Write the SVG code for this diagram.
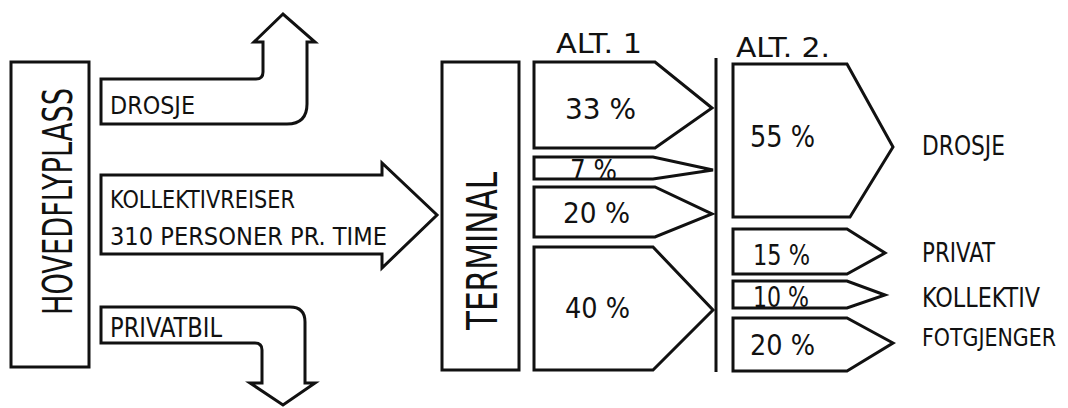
<svg xmlns="http://www.w3.org/2000/svg" width="1068" height="408" viewBox="0 0 1068 408">
<style>
.s{fill:#fff;stroke:#111;stroke-width:3;stroke-linejoin:miter}
.t{font-family:"DejaVu Sans Condensed","DejaVu Sans",sans-serif;fill:#111}
</style>
<rect width="1068" height="408" fill="#fff"/>
<g id="connectors">
<path id="arrow-drosje" class="s" d="M101,79 L256,79 Q263,79 263,72 L263,42 L254,42 L283,14 L315,42 L307,42 L307,104 Q307,124 287,124 L101,124 Z"/>
<path id="arrow-privatbil" class="s" d="M101,307 L290,307 Q305,307 305,322 L305,383 L315,383 L283,405 L250,383 L262,383 L262,350 Q262,343 255,343 L101,343 Z"/>
<path id="arrow-kollektiv" class="s" d="M101,175 L382,175 L382,163 L437,215 L382,268 L382,254 L101,254 Z"/>
<line x1="716" y1="58" x2="716" y2="372" stroke="#111" stroke-width="3"/>
</g>
<g id="labels-left">
<text class="t" x="110" y="114" font-size="24" textLength="85" lengthAdjust="spacingAndGlyphs">DROSJE</text>
<text class="t" x="110" y="208" font-size="24" textLength="185" lengthAdjust="spacingAndGlyphs">KOLLEKTIVREISER</text>
<text class="t" x="110" y="245" font-size="24" textLength="277" lengthAdjust="spacingAndGlyphs">310 PERSONER  PR. TIME</text>
<text class="t" x="110" y="337" font-size="27" textLength="112" lengthAdjust="spacingAndGlyphs">PRIVATBIL</text>
</g>
<g id="node-hovedflyplass">
<rect class="s" x="11" y="62" width="78" height="305"/>
<text class="t" transform="translate(72,201.5) rotate(-90)" text-anchor="middle" font-size="40" textLength="227" lengthAdjust="spacingAndGlyphs">HOVEDFLYPLASS</text>
</g>
<g id="node-terminal">
<rect class="s" x="442" y="62" width="77" height="308"/>
<text class="t" transform="translate(497,251) rotate(-90)" text-anchor="middle" font-size="43" textLength="158" lengthAdjust="spacingAndGlyphs">TERMINAL</text>
</g>
<g id="alt1">
<text class="t" x="556" y="53" font-size="27" textLength="86" lengthAdjust="spacingAndGlyphs">ALT. 1</text>
<path class="s" d="M534,62 L655,62 L712,108 L655,148 L534,148 Z"/>
<text class="t" x="565" y="119" font-size="29" textLength="71" lengthAdjust="spacingAndGlyphs">33 %</text>
<text class="t" x="570" y="180" font-size="28" textLength="47" lengthAdjust="spacingAndGlyphs">7 %</text>
<path class="s" d="M534,157 L653,157 L713,170 L653,179 L534,179 Z" fill-opacity="0"/>
<path class="s" d="M534,187 L655,187 L712,214 L655,237 L534,237 Z"/>
<text class="t" x="563" y="223" font-size="29" textLength="67" lengthAdjust="spacingAndGlyphs">20 %</text>
<path class="s" d="M534,247 L653,247 L713,310 L653,370 L534,370 Z"/>
<text class="t" x="565" y="318" font-size="29" textLength="65" lengthAdjust="spacingAndGlyphs">40 %</text>
</g>
<g id="alt2">
<text class="t" x="736" y="57" font-size="27" textLength="94" lengthAdjust="spacingAndGlyphs">ALT. 2.</text>
<path class="s" d="M733,64 L847,64 L893,147 L850,217 L733,217 Z"/>
<text class="t" x="750" y="147" font-size="31" textLength="65" lengthAdjust="spacingAndGlyphs">55 %</text>
<path class="s" d="M733,229 L847,229 L885,253 L847,274 L733,274 Z"/>
<text class="t" x="753" y="265" font-size="29" textLength="57" lengthAdjust="spacingAndGlyphs">15 %</text>
<text class="t" x="753" y="307" font-size="28" textLength="56" lengthAdjust="spacingAndGlyphs">10 %</text>
<path class="s" d="M733,281 L847,281 L885,295 L847,308 L733,308 Z" fill-opacity="0"/>
<path class="s" d="M733,318 L847,318 L893,343 L847,371 L733,371 Z"/>
<text class="t" x="750" y="355" font-size="29" textLength="65" lengthAdjust="spacingAndGlyphs">20 %</text>
</g>
<g id="labels-right">
<text class="t" x="922" y="155" font-size="27" textLength="83" lengthAdjust="spacingAndGlyphs">DROSJE</text>
<text class="t" x="922" y="262" font-size="27" textLength="73" lengthAdjust="spacingAndGlyphs">PRIVAT</text>
<text class="t" x="922" y="307" font-size="26" textLength="118" lengthAdjust="spacingAndGlyphs">KOLLEKTIV</text>
<text class="t" x="922" y="346" font-size="25" textLength="134" lengthAdjust="spacingAndGlyphs">FOTGJENGER</text>
</g>
</svg>
